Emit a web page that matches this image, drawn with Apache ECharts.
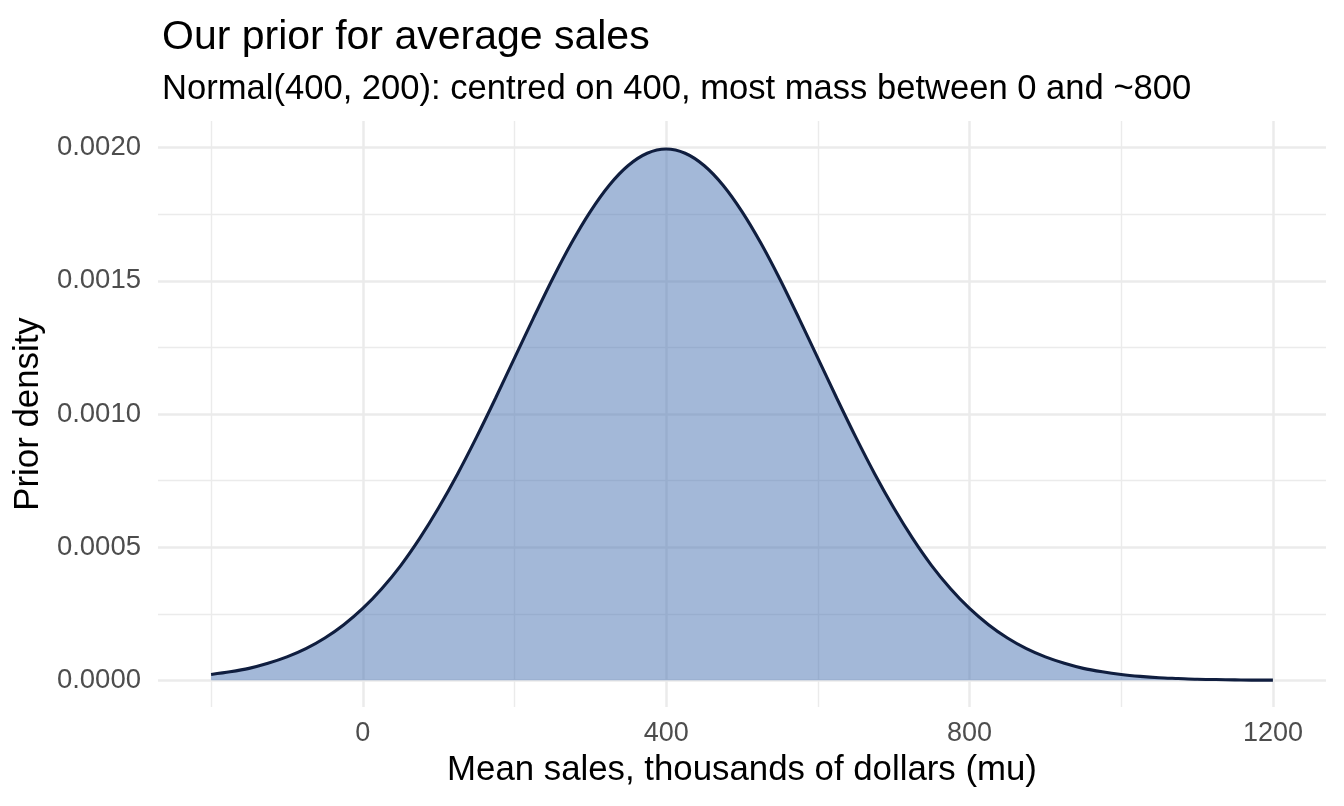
<!DOCTYPE html>
<html>
<head>
<meta charset="utf-8">
<script src="https://cdn.jsdelivr.net/npm/echarts@6/dist/echarts.min.js"></script>
<style>
  html, body { margin: 0; padding: 0; background: #fff; }
  #chart { width: 1344px; height: 806px; }
</style>
</head>
<body>
<div id="chart"></div>
<script>
// 曲线数据（从图上读出的密度值）
var mu = [
  -200, -175, -150, -125, -100, -75, -50, -25, 0, 25, 50, 75, 100, 125, 150, 175,
  200, 225, 250, 275, 300, 325, 350, 375, 400, 425, 450, 475, 500, 525, 550, 575,
  600, 625, 650, 675, 700, 725, 750, 775, 800, 825, 850, 875, 900, 925, 950, 975,
  1000, 1025, 1050, 1075, 1100, 1125, 1150, 1175, 1200
];
var density = [
  0.000022, 0.000032, 0.000045, 0.000064, 0.000088, 0.000119, 0.000159, 0.000209,
  0.000270, 0.000344, 0.000431, 0.000533, 0.000648, 0.000775, 0.000913, 0.001059,
  0.001210, 0.001360, 0.001506, 0.001641, 0.001760, 0.001859, 0.001933, 0.001979,
  0.001995, 0.001979, 0.001933, 0.001859, 0.001760, 0.001641, 0.001506, 0.001360,
  0.001210, 0.001059, 0.000913, 0.000775, 0.000648, 0.000533, 0.000431, 0.000344,
  0.000270, 0.000209, 0.000159, 0.000119, 0.000088, 0.000064, 0.000045, 0.000032,
  0.000022, 0.000015, 0.000010, 0.000007, 0.000004, 0.000003, 0.000002, 0.000001,
  0.000001
];
// 刻度
var xTicks = [0, 400, 800, 1200];
var xMinor = [-200, 200, 600, 1000];
var yTicks = [0, 0.0005, 0.001, 0.0015, 0.002];
var yMinor = [0.00025, 0.00075, 0.00125, 0.00175];

var xRange = [-270, 1270];
var yRange = [-0.0001, 0.0021];

var font = "Liberation Sans, Arial, Helvetica, sans-serif";

// 网格线：用 markLine 的两个端点画
function vLines(values, width) {
  return values.map(function (v) {
    return [
      { coord: [v, yRange[0]], lineStyle: { color: "#EBEBEB", width: width, type: "solid" } },
      { coord: [v, yRange[1]] }
    ];
  });
}
function hLines(values, width) {
  return values.map(function (v) {
    return [
      { coord: [xRange[0], v], lineStyle: { color: "#EBEBEB", width: width, type: "solid" } },
      { coord: [xRange[1], v] }
    ];
  });
}

var chart = echarts.init(document.getElementById("chart"));
var option = {
  animation: false,
  backgroundColor: "#fff",
  title: [
    {
      text: "Our prior for average sales",
      left: 157, top: 12,
      textStyle: { fontFamily: font, fontSize: 41, fontWeight: "normal", color: "#000" }
    },
    {
      text: "Normal(400, 200): centred on 400, most mass between 0 and ~800",
      left: 157, top: 67,
      textStyle: { fontFamily: font, fontSize: 34.6, fontWeight: "normal", color: "#000" }
    }
  ],
  grid: { left: 158, right: 18, top: 121, bottom: 99, containLabel: false },
  xAxis: {
    type: "value",
    min: xRange[0], max: xRange[1],
    name: "Mean sales, thousands of dollars (mu)",
    nameLocation: "middle",
    nameGap: 46,
    nameTextStyle: { fontFamily: font, fontSize: 34.8, color: "#000" },
    axisLine: { show: false },
    axisTick: { show: false },
    splitLine: { show: false },
    axisLabel: {
      customValues: xTicks,
      margin: 13,
      fontFamily: font, fontSize: 27, color: "#4D4D4D",
      formatter: function (v) { return String(v); }
    }
  },
  yAxis: {
    type: "value",
    min: yRange[0], max: yRange[1],
    name: "Prior density",
    nameLocation: "middle",
    nameGap: 111,
    nameTextStyle: { fontFamily: font, fontSize: 34.8, color: "#000" },
    axisLine: { show: false },
    axisTick: { show: false },
    splitLine: { show: false },
    axisLabel: {
      customValues: yTicks,
      margin: 17,
      fontFamily: font, fontSize: 27.5, color: "#4D4D4D",
      formatter: function (v) { return v.toFixed(4); }
    }
  },
  series: [
    {
      // 网格线
      type: "line",
      data: [],
      silent: true,
      markLine: {
        silent: true,
        z: 1,
        symbol: "none",
        label: { show: false },
        emphasis: { disabled: true },
        animation: false,
        data: []
          .concat(vLines(xMinor, 1.4))
          .concat(hLines(yMinor, 1.4))
          .concat(vLines(xTicks, 2.5))
          .concat(hLines(yTicks, 2.5))
      }
    },
    {
      type: "line",
      z: 2,
      data: mu.map(function (x, i) { return [x, density[i]]; }),
      smooth: 0.3,
      showSymbol: false,
      lineStyle: { color: "#101E3F", width: 3.1 },
      areaStyle: { color: "rgb(71, 113, 177)", opacity: 0.5, origin: 0 }
    }
  ]
};
chart.setOption(option);
</script>
</body>
</html>
